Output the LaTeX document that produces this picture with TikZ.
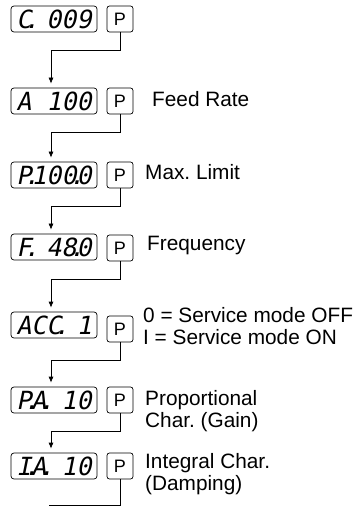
\documentclass[tikz,border=0pt]{standalone}
\usepackage{fontspec}
\setmainfont{Liberation Sans}
\newfontfamily\segfont[FakeSlant=0.2]{DejaVu Sans Mono}
\usetikzlibrary{arrows.meta}
\newcommand{\sd}{\makebox[0pt]{.}}
\newcommand{\blank}{\phantom{0}}
\frenchspacing

\begin{document}
\begin{tikzpicture}[x=1pt, y=-1pt,
	display/.style={draw, rounded corners=3pt, line width=0.7pt, minimum width=86pt, minimum height=26pt, inner sep=0pt, font=\segfont\fontsize{25}{25}\selectfont},
	pbutton/.style={draw, rounded corners=2.5pt, line width=0.7pt, minimum width=26pt, minimum height=26pt, inner sep=0pt, font=\fontsize{18}{18}\selectfont},
	note/.style={anchor=west, align=left, inner sep=0pt, font=\fontsize{20.8}{22}\selectfont},
	flow/.style={line width=0.7pt}]
	\useasboundingbox (0,0) rectangle (358,510);
	% displays and P keys
	\foreach \i/\y/\py/\txt in {1/19/19/{C\sd\blank 009}, 2/101/101/{A\blank 100}, 3/175/175/{P\sd 100\sd 0}, 4/247/248/{F\sd\blank 48\sd 0}, 5/325/329/{ACC\sd\blank 1}, 6/400/400/{P\sd A\sd\blank 10}, 7/466/466/{I\sd A\sd\blank 10}}{
		\node[display] (d\i) at (54,\y) {\txt};
		\node[pbutton] (p\i) at (120,\py) {P};
	}
	% arrows
	\foreach \i/\j in {1/2, 2/3, 3/4, 4/5, 5/6, 6/7}{
		\draw[flow, -{Latex[length=6pt,width=5pt]}] (p\i.south) -- ++(0,18) -| ([xshift=-3pt,yshift=4pt]d\j.north);
	}
	\coordinate (tail) at (49,505);
	\draw[flow] (p7.south) |- (tail);
	% texts
	\node[note] (t2) at (152,99) {Feed Rate};
	\node[note] (t3) at (145,172) {Max. Limit};
	\node[note] (t4) at (147,246) {Frequency};
	\node[note] (t5) at (143,326) {0 = Service mode OFF\\I = Service mode ON};
	\node[note] (t6) at (145,411) {Proportional\\Char. (Gain)};
	\node[note] (t7) at (145,474) {Integral Char.\\(Damping)};
\end{tikzpicture}
\end{document}
